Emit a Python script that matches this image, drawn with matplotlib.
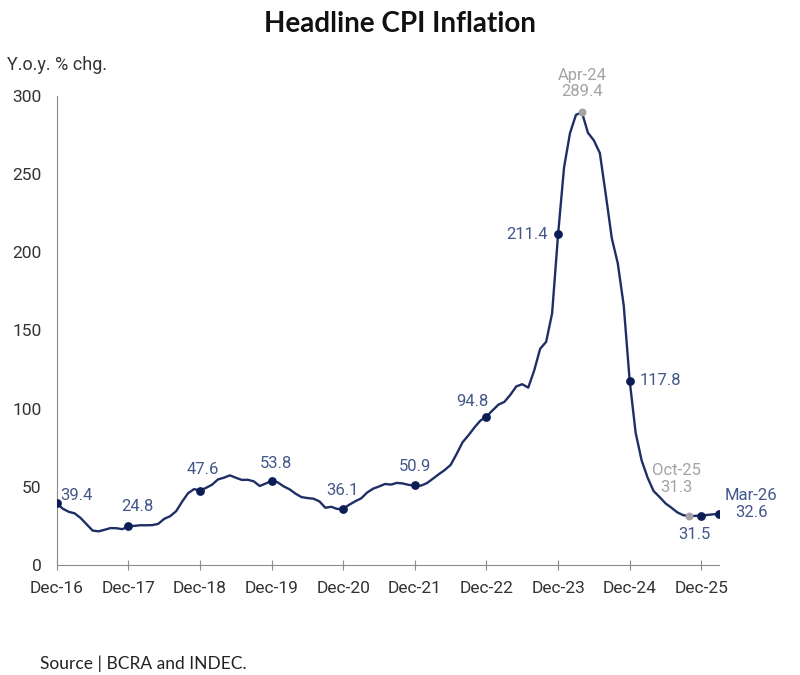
import matplotlib.pyplot as plt

# Datos: inflación interanual mensual, Dic-16 a Mar-26
cpi_yoy = [
    39.4,
    36.0, 34.0, 33.0, 30.0, 26.0, 22.0, 21.5, 22.5, 23.6, 23.5, 22.9, 24.8,
    25.0, 25.4, 25.4, 25.5, 26.3, 29.5, 31.2, 34.4, 40.5, 45.9, 48.5, 47.6,
    49.3, 51.3, 54.7, 55.8, 57.3, 55.8, 54.4, 54.5, 53.5, 50.5, 52.1, 53.8,
    52.9, 50.3, 48.4, 45.6, 43.4, 42.8, 42.4, 40.7, 36.6, 37.2, 35.8, 36.1,
    38.5, 40.7, 42.6, 46.3, 48.8, 50.2, 51.8, 51.4, 52.5, 52.1, 51.2, 50.9,
    50.7, 52.3, 55.1, 58.0, 60.7, 64.0, 71.0, 78.5, 83.0, 88.0, 92.4, 94.8,
    98.8, 102.5, 104.3, 108.8, 114.2, 115.6, 113.4, 124.4, 138.3, 142.7, 160.9, 211.4,
    254.2, 276.2, 287.9, 289.4, 276.4, 271.5, 263.4, 236.7, 209.0, 193.0, 166.0, 117.8,
    84.5, 66.9, 55.9, 47.3, 43.5, 39.4, 36.6, 33.6, 31.8, 31.3, 31.4, 31.5,
    32.0, 32.4, 32.6,
]
tick_labels = ["Dec-16", "Dec-17", "Dec-18", "Dec-19", "Dec-20",
               "Dec-21", "Dec-22", "Dec-23", "Dec-24", "Dec-25"]
dec_idx = [0, 12, 24, 36, 48, 60, 72, 84, 96, 108]
peak_idx = 88      # Apr-24
oct25_idx = 106    # Oct-25
last_idx = 111     # Mar-26

line_col = "#1F2F66"
dot_col = "#0B1D55"
lbl_col = "#44578A"
grey = "#A3A3A3"

fig = plt.figure(figsize=(8, 6.75), dpi=100)
ax = fig.add_axes([0.071, 0.163, 0.828, 0.695])

x = list(range(len(cpi_yoy)))
ax.plot(x, cpi_yoy, color=line_col, lw=1.7, zorder=2)

# puntos de diciembre
ax.scatter(dec_idx, [cpi_yoy[i] for i in dec_idx], s=28, color=dot_col, zorder=3)
ax.scatter([last_idx], [cpi_yoy[last_idx]], s=28, color=dot_col, zorder=3)
ax.scatter([peak_idx, oct25_idx], [cpi_yoy[peak_idx], cpi_yoy[oct25_idx]],
           s=22, color=grey, zorder=3)

fs = 12
def lab(i, txt, dx, dy, ha="center", col=lbl_col):
    ax.annotate(txt, (i, cpi_yoy[i]), xytext=(dx, dy), textcoords="offset pixels",
                ha=ha, va="center", fontsize=fs, color=col, family="Roboto",
                linespacing=1.15)

lab(0, f"{cpi_yoy[0]}", 3, 8, ha="left")
lab(12, f"{cpi_yoy[12]}", 9, 20)
lab(24, f"{cpi_yoy[24]}", 3, 21)
lab(36, f"{cpi_yoy[36]}", 4, 17)
lab(48, f"{cpi_yoy[48]}", -1, 18)
lab(60, f"{cpi_yoy[60]}", 0, 19)
lab(72, f"{cpi_yoy[72]}", -14, 15)
lab(84, f"{cpi_yoy[84]}", -10, 0, ha="right")
lab(peak_idx, f"Apr-24\n{cpi_yoy[peak_idx]}", 0, 29, col=grey)
lab(96, f"{cpi_yoy[96]}", 10, 0, ha="left")
lab(oct25_idx, f"Oct-25\n{cpi_yoy[oct25_idx]}", -13, 37, col=grey)
lab(108, f"{cpi_yoy[108]}", -7, -19)
lab(last_idx, f"Mar-26\n{cpi_yoy[last_idx]}", 32, 10)

ax.set_xlim(0, last_idx)
ax.set_ylim(0, 300)
ax.set_yticks(range(0, 301, 50))
ax.set_yticks([300], minor=True)
ax.set_xticks(dec_idx)
ax.set_xticklabels(tick_labels)
for sp in ["top", "right"]:
    ax.spines[sp].set_visible(False)
for sp in ["left", "bottom"]:
    ax.spines[sp].set_color("#8C8C8C")
ax.tick_params(axis="x", direction="inout", length=7, color="#8C8C8C",
               labelsize=12.5, labelcolor="#333333", pad=8)
ax.tick_params(axis="y", which="major", length=0, labelsize=12.5,
               labelcolor="#333333", pad=11)
ax.tick_params(axis="y", which="minor", direction="in", length=5, color="#8C8C8C")
for t in ax.get_xticklabels() + ax.get_yticklabels():
    t.set_family("Roboto")

fig.text(0.5, 0.965, "Headline CPI Inflation", ha="center", va="center",
         fontsize=20, fontweight="bold", family="Lato", color="#111111")
fig.text(0.009, 0.903, "Y.o.y. % chg.", ha="left", va="center",
         fontsize=13, family="Roboto", color="#333333")
fig.text(0.05, 0.016, "Source | BCRA and INDEC.", ha="left", va="center",
         fontsize=12.5, family="Lato", color="#222222")

fig.savefig("out.png", dpi=100)
